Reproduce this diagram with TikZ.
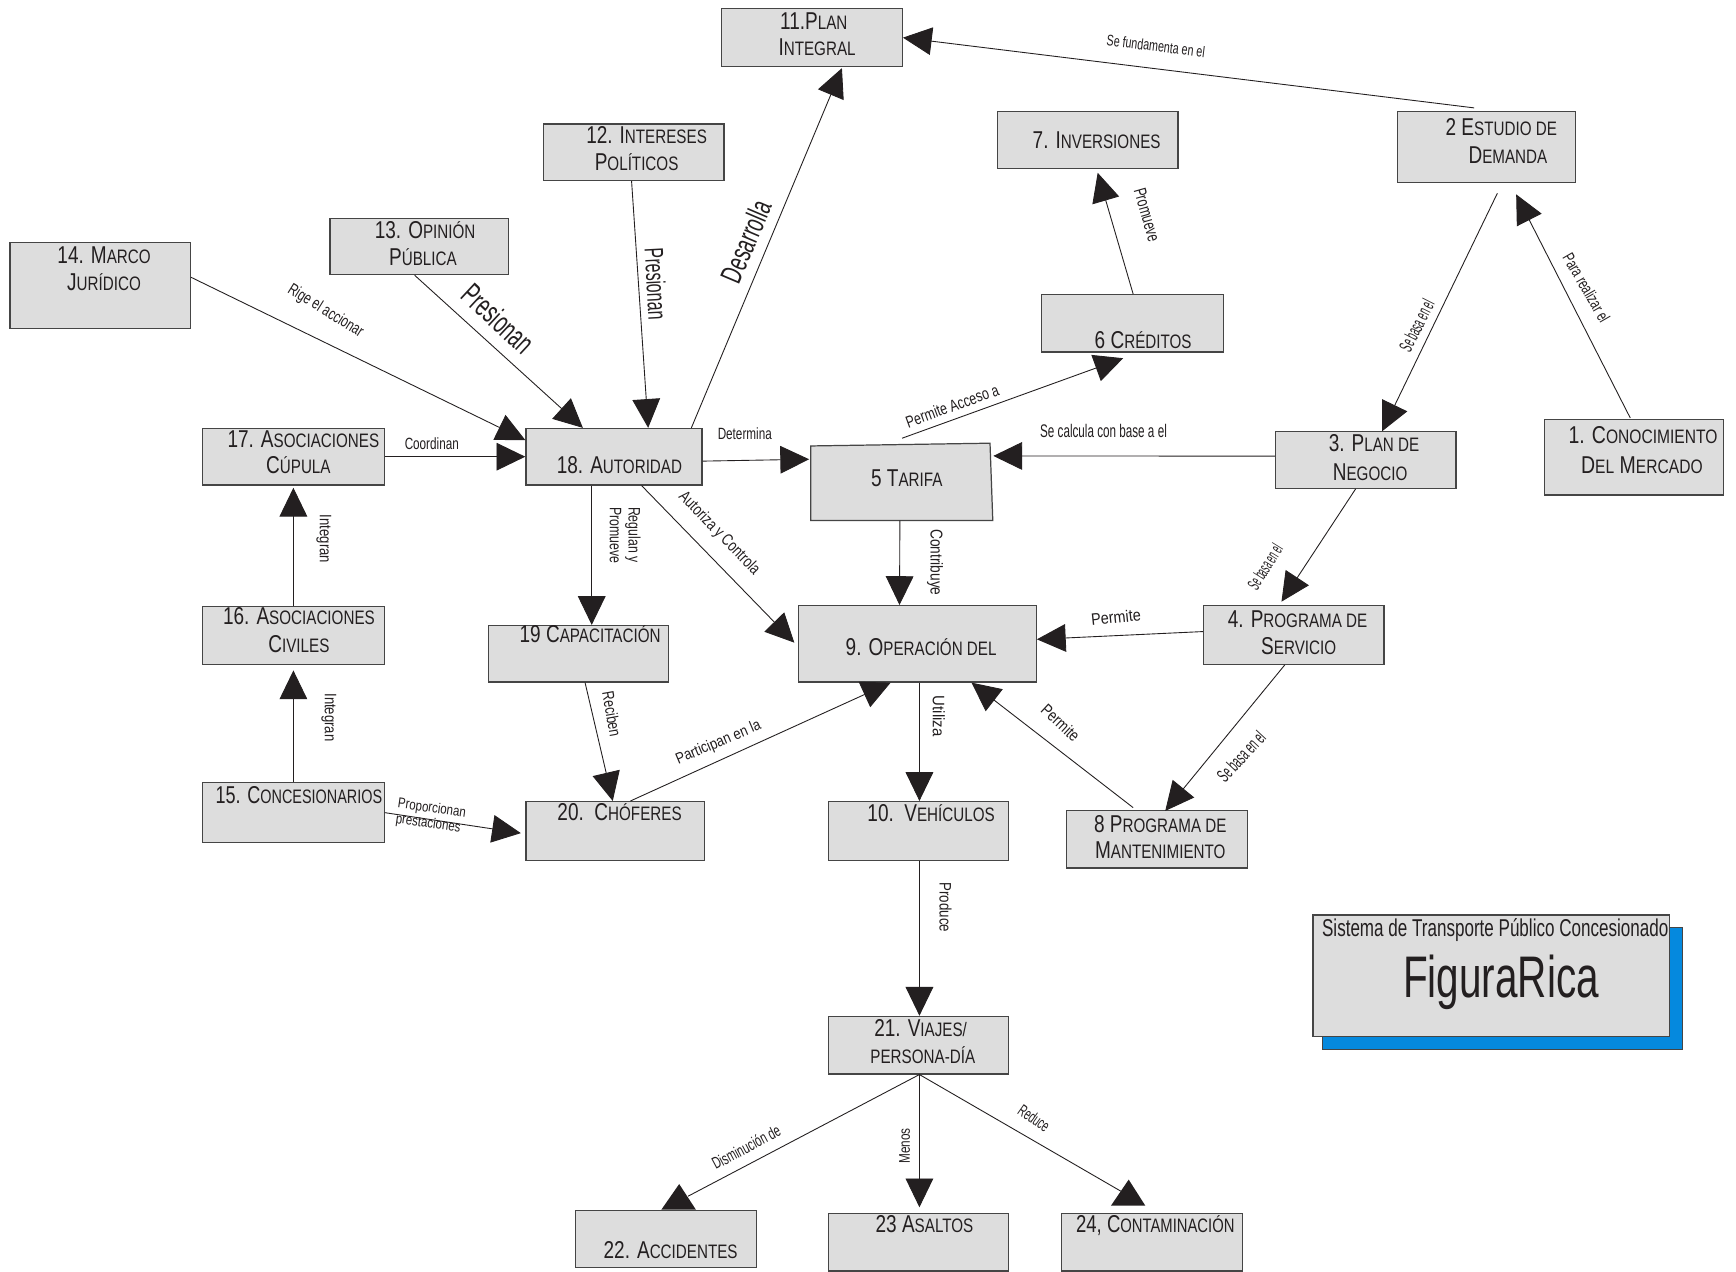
\documentclass[tikz,border=0pt]{standalone}
\usepackage{fontspec}
\setmainfont{Liberation Sans}
\usepackage{graphicx}
\usetikzlibrary{arrows.meta,calc}
\definecolor{ink}{HTML}{231F20}
\definecolor{boxgray}{HTML}{DDDDDD}
\definecolor{boxline}{HTML}{454545}
\definecolor{shadowblue}{HTML}{0589DE}
\newcommand\sq[2]{\scalebox{#1}[1]{#2}}
\newcommand\sk[1]{{\fontsize{17.6}{20}\selectfont #1}}
\newcommand\edgelab[6]{\node[lab, rotate=#3, font=\fontsize{#2}{#2}\selectfont] (#1) at (#4) {\sq{#5}{#6}};}
\begin{document}
\begin{tikzpicture}[x=1pt,y=-1pt,
  box/.style={draw=boxline, fill=boxgray, line width=1.1pt, inner sep=0pt, rectangle},
  bx/.style 2 args={box, minimum width=#1pt, minimum height=#2pt},
  btxt/.style={anchor=base, inner sep=0pt, text=ink, font=\fontsize{22}{25}\selectfont},
  lab/.style={inner sep=0pt, text=ink},
  conn/.style={draw=ink, line width=0.8pt, -{Triangle[length=26pt,width=25pt]}},
  plain/.style={draw=ink, line width=0.8pt}]
\useasboundingbox (0,0) rectangle (1568,1148);
\fill[white] (0,0) rectangle (1568,1148);

% ---- title block
\node[draw=boxline, fill=shadowblue, line width=0.8pt, minimum width=325pt, minimum height=110pt, inner sep=0pt] (shadow) at (1357,893) {};
\node[bx={322}{110}] (title) at (1347,881.5) {};
\node[btxt, font=\fontsize{22}{24}\selectfont] (tt1) at (1350.5,846) {\sq{.70}{Sistema de Transporte Público Concesionado}};
\node[btxt, font=\fontsize{53}{55}\selectfont] (tt2) at (1355.7,901) {\sq{.69}{FiguraRica}};

% ---- boxes
\node[bx={163}{52}] (b11) at (733.5,34) {};
\node[bx={163}{51}] (b12) at (572.5,137.5) {};
\node[bx={161}{51}] (b13) at (378.5,222.5) {};
\node[bx={163}{78}] (b14) at (90.5,258) {};
\node[bx={163}{51}] (b7) at (982.5,126.5) {};
\node[bx={161}{64}] (b2) at (1342.5,133) {};
\node[bx={164}{52}] (b6) at (1023,292) {};
\node[bx={162}{68}] (b1) at (1476,413) {};
\node[bx={164}{51}] (b17) at (265,412.5) {};
\node[bx={159}{51}] (b18) at (554.5,412.5) {};
\node[inner sep=0pt, minimum width=163pt, minimum height=68pt] (b5) at (813.5,436) {};
\draw[draw=boxline, fill=boxgray, line width=1.1pt, line join=miter]
  ($(b5.south west)+(0.5,0)$) -- ($(b5.north west)+(0.5,1)$) -- ($(b5.north east)+(-1,-1.5)$) -- ($(b5.south east)+(1.5,0)$) -- cycle;
\node[bx={163}{51}] (b3) at (1233.5,415.5) {};
\node[bx={164}{52}] (b16) at (265,574) {};
\node[bx={163}{51}] (b19) at (522.5,590.5) {};
\node[bx={215}{69}] (b9) at (828.5,581.5) {};
\node[bx={163}{53}] (b4) at (1168.5,573.5) {};
\node[bx={164}{54}] (b15) at (265,734) {};
\node[bx={161}{53}] (b20) at (555.5,750.5) {};
\node[bx={163}{53}] (b10) at (829.5,750.5) {};
\node[bx={164}{52}] (b8) at (1045,758) {};
\node[bx={163}{52}] (b21) at (829.5,944) {};
\node[bx={163}{52}] (b22) at (601.5,1119) {};
\node[bx={163}{52}] (b23) at (829.5,1122) {};
\node[bx={163}{52}] (b24) at (1040.5,1122) {};

% ---- box texts
\node[btxt] (t11a) at (735,26.5) {\sq{.78}{11.P\sk{LAN}}};
\node[btxt] (t11b) at (738,50.5) {\sq{.78}{I\sk{NTEGRAL}}};
\node[btxt] (t12a) at (584,129.5) {\sq{.78}{12. I\sk{NTERESES}}};
\node[btxt] (t12b) at (575,154) {\sq{.78}{P\sk{OLÍTICOS}}};
\node[btxt] (t13a) at (384,215) {\sq{.78}{13. O\sk{PINIÓN}}};
\node[btxt] (t13b) at (382,239.5) {\sq{.78}{P\sk{ÚBLICA}}};
\node[btxt] (t14a) at (94,238) {\sq{.78}{14. M\sk{ARCO}}};
\node[btxt] (t14b) at (94,262) {\sq{.78}{J\sk{URÍDICO}}};
\node[btxt] (t7) at (990.5,133.7) {\sq{.78}{7. I\sk{NVERSIONES}}};
\node[btxt] (t2a) at (1356,122) {\sq{.78}{2 E\sk{STUDIO DE}}};
\node[btxt] (t2b) at (1362,147.5) {\sq{.78}{D\sk{EMANDA}}};
\node[btxt] (t6) at (1032.5,314.5) {\sq{.78}{6 C\sk{RÉDITOS}}};
\node[btxt] (t1a) at (1484,401) {\sq{.80}{1. C\sk{ONOCIMIENTO}}};
\node[btxt] (t1b) at (1483,427.5) {\sq{.80}{D\sk{EL} M\sk{ERCADO}}};
\node[btxt] (t17a) at (274,404) {\sq{.78}{17. A\sk{SOCIACIONES}}};
\node[btxt] (t17b) at (269.5,427.5) {\sq{.78}{C\sk{ÚPULA}}};
\node[btxt] (t18) at (559.5,427.5) {\sq{.78}{18. A\sk{UTORIDAD}}};
\node[btxt] (t5) at (819,439) {\sq{.78}{5 T\sk{ARIFA}}};
\node[btxt] (t3a) at (1241,408) {\sq{.78}{3. P\sk{LAN DE}}};
\node[btxt] (t3b) at (1237.5,433.6) {\sq{.78}{N\sk{EGOCIO}}};
\node[btxt] (t16a) at (270,564.5) {\sq{.78}{16. A\sk{SOCIACIONES}}};
\node[btxt] (t16b) at (270,589) {\sq{.78}{C\sk{IVILES}}};
\node[btxt] (t19) at (533,580.6) {\sq{.78}{19 C\sk{APACITACIÓN}}};
\node[btxt] (t9) at (832,591.7) {\sq{.78}{9. O\sk{PERACIÓN DEL}}};
\node[btxt] (t4a) at (1172,566.5) {\sq{.78}{4. P\sk{ROGRAMA DE}}};
\node[btxt] (t4b) at (1173,590.8) {\sq{.78}{S\sk{ERVICIO}}};
\node[btxt] (t15) at (270,725.5) {\sq{.74}{15. C\sk{ONCESIONARIOS}}};
\node[btxt] (t20) at (559.6,741.5) {\sq{.78}{20.\ \ C\sk{HÓFERES}}};
\node[btxt] (t10) at (841,742) {\sq{.78}{10.\ \ V\sk{EHÍCULOS}}};
\node[btxt] (t8a) at (1048,751.5) {\sq{.78}{8 P\sk{ROGRAMA DE}}};
\node[btxt] (t8b) at (1048,775) {\sq{.78}{M\sk{ANTENIMIENTO}}};
\node[btxt] (t21a) at (831.5,936.5) {\sq{.78}{21. V\sk{IAJES/}}};
\node[btxt] (t21b) at (833.5,960.5) {\sq{.78}{\sk{PERSONA-DÍA}}};
\node[btxt] (t22) at (605.7,1137) {\sq{.78}{22. A\sk{CCIDENTES}}};
\node[btxt] (t23) at (835,1113) {\sq{.78}{23 A\sk{SALTOS}}};
\node[btxt] (t24) at (1043.5,1113) {\sq{.76}{24, C\sk{ONTAMINACIÓN}}};

% ---- connectors
\draw[conn] ($(b2.north west)+(70,-3)$) -- (b11.east);
\draw[conn] ($(b18.north west)+(150,0)$) -- ($(b11.south west)+(109,1)$);
\draw[conn] ($(b12.south west)+(80,0)$) -- ($(b18.north west)+(111,0)$);
\draw[conn] ($(b13.south west)+(77,0)$) -- ($(b18.north west)+(52,0)$);
\draw[conn] ($(b14.north east)+(0,32)$) -- ($(b18.north west)+(0,11)$);
\draw[conn] (b17.east) -- (b18.west);
\draw[conn] ($(b18.east)+(0,4)$) -- ($(b5.north west)+(-1,13)$);
\draw[conn] ($(b3.west)+(0,-3.5)$) -- ($(b5.north east)+(2,10)$);
\draw[conn] ($(b5.north west)+(83,-6)$) -- ($(b6.south west)+(74,5)$);
\draw[conn] ($(b6.north west)+(83,0)$) -- ($(b7.south west)+(91,3.5)$);
\draw[conn] ($(b2.south west)+(91,9)$) -- ($(b3.north west)+(97,0)$);
\draw[conn] ($(b1.north west)+(78,-1)$) -- ($(b2.south west)+(108,10)$);
\draw[conn] ($(b18.south west)+(60,0)$) -- ($(b19.north west)+(94,0)$);
\draw[conn] ($(b18.south west)+(105,0)$) -- ($(b9.north west)+(-3,34)$);
\draw[conn] ($(b5.south west)+(81,0)$) -- ($(b9.north west)+(92,0)$);
\draw[conn] ($(b3.south west)+(73,0)$) -- ($(b4.north west)+(71,-3)$);
\draw[conn] ($(b4.north west)+(0,24)$) -- ($(b9.north east)+(0,31)$);
\draw[conn] (b16.north) -- ($(b17.south)+(0,2)$);
\draw[conn] (b15.north) -- ($(b16.south)+(0,5)$);
\draw[conn] ($(b19.south west)+(88,0)$) -- ($(b20.north west)+(79,0)$);
\draw[conn] ($(b20.north west)+(95,0)$) -- ($(b9.south west)+(84,0)$);
\draw[conn] (b15.east) -- ($(b20.west)+(-4,2)$);
\draw[conn] ($(b9.south west)+(110,0)$) -- ($(b10.north west)+(83,0)$);
\draw[conn] ($(b8.north west)+(61,-2)$) -- ($(b9.south west)+(157,0)$);
\draw[conn] ($(b4.south west)+(74,0)$) -- ($(b8.north west)+(90,1)$);
\draw[conn] ($(b10.south west)+(83,0)$) -- ($(b21.north west)+(83,0)$);
\draw[conn] ($(b21.south west)+(83,0)$) -- ($(b23.north west)+(83,-5)$);
\draw[plain] ($(b21.south west)+(83,0)$) -- ($(b22.north west)+(102,-12)$);
\fill[ink] ($(b22.north west)+(94,-23)$) -- ($(b22.north west)+(78,0)$) -- ($(b22.north west)+(109,0)$) -- cycle;
\draw[plain] ($(b21.south west)+(83,0)$) -- ($(b24.north west)+(54,-19.5)$);
\fill[ink] ($(b24.north west)+(61,-30)$) -- ($(b24.north west)+(45,-6.5)$) -- ($(b24.north west)+(76,-6.5)$) -- cycle;

% ---- connector labels
\edgelab{la}{14}{-7}{1044,41.5}{.69}{Se fundamenta en el}
\edgelab{lb}{27}{67}{673.5,218}{.63}{Desarrolla}
\edgelab{lc}{24}{-87}{592.6,256.5}{.6}{Presionan}
\edgelab{ld}{28}{-43}{450,288}{.61}{Presionan}
\edgelab{le}{15}{-32}{294,281}{.72}{Rige el accionar}
\edgelab{lf}{14.7}{0}{390,401}{.72}{Coordinan}
\edgelab{lg}{14.7}{0}{672.7,391.5}{.72}{Determina}
\edgelab{lh}{16.5}{0}{996.7,389}{.64}{Se calcula con base a el}
\edgelab{li}{15}{20}{860,366.5}{.75}{Permite Acceso a}
\edgelab{lj}{16}{-74}{1036,194}{.68}{Promueve}
\edgelab{lk}{17}{63}{1279.5,294}{.48}{Se basa en el}
\edgelab{ll}{15}{-60}{1433,260}{.69}{Para realizar el}
\node[lab, rotate=-90, font=\fontsize{15}{17}\selectfont] (lm) at (562.7,483.3) {\sq{.74}{\begin{tabular}{@{}l@{}}Regulan y\\Promueve\end{tabular}}};
\edgelab{ln}{15}{-46}{649.5,482}{.77}{Autoriza y Controla}
\edgelab{lo}{15.5}{-90}{844.5,508}{.8}{Contribuye}
\edgelab{lp}{16}{58}{1142.5,512}{.46}{Se basa en el}
\edgelab{lq}{15}{6}{1008,557.5}{.87}{Permite}
\edgelab{lr}{15}{-90}{292.6,486.8}{.79}{Integran}
\edgelab{ls}{15}{-90}{297,648}{.79}{Integran}
\edgelab{lt}{15}{-80}{552.7,645}{.75}{Reciben}
\edgelab{lu}{14}{23}{649,671}{.85}{Participan en la}
\node[lab, rotate=-8, font=\fontsize{13}{14}\selectfont] (lv) at (389,738) {\sq{.8}{\begin{tabular}{@{}l@{}}Proporcionan\\prestaciones\end{tabular}}};
\edgelab{lw}{15}{-90}{848,647}{.9}{Utiliza}
\edgelab{lx}{15}{-43}{958,653}{.8}{Permite}
\edgelab{ly}{17}{47}{1121,683}{.53}{Se basa en el}
\edgelab{lz}{15}{-90}{854,819.5}{.8}{Produce}
\edgelab{laa}{15}{28}{674,1036}{.66}{Disminución de}
\edgelab{lbb}{14}{90}{817,1035}{.76}{Menos}
\edgelab{lcc}{15}{-35}{934,1010}{.6}{Reduce}
\end{tikzpicture}
\end{document}
